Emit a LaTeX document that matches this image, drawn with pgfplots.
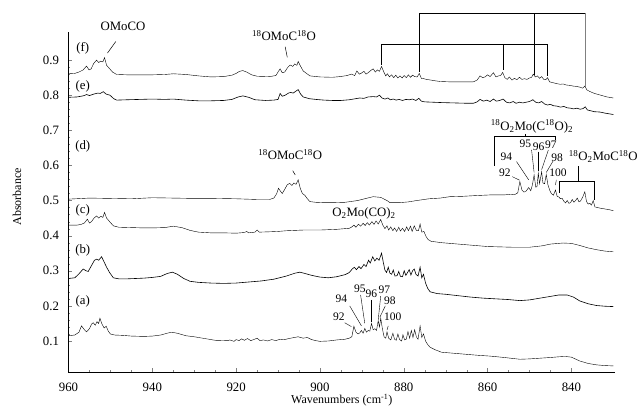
\documentclass[border=0pt]{standalone}
\usepackage{fontspec}
\setmainfont{Liberation Serif}
\usepackage{pgfplots}
\pgfplotsset{compat=1.18}

\newcommand{\iso}{\textsuperscript{18}}

\begin{document}
\begin{tikzpicture}[font=\fontsize{12.8}{15}\selectfont]
\begin{axis}[
  scale only axis, width=546.5pt, height=340pt,
  x dir=reverse, xmin=829.6, xmax=960,
  ymin=0.0117, ymax=0.980,
  axis x line*=bottom, axis y line*=left,
  axis line style={line width=0.5pt, -},
  tick align=inside,
  major tick length=4pt, minor tick length=2pt,
  xtick={840,860,880,900,920,940,960}, minor x tick num=3,
  ytick={0.1,0.2,0.3,0.4,0.5,0.6,0.7,0.8,0.9}, minor y tick num=4,
  /pgf/number format/assume math mode=true,
  yticklabel style={/pgf/number format/fixed, /pgf/number format/precision=1, /pgf/number format/fixed zerofill, xshift=-6pt},
  xticklabel style={yshift=-7pt},
  xlabel={Wavenumbers (cm\textsuperscript{-1})},
  xlabel style={at={(axis description cs:0.5,0)}, anchor=center, yshift=-28pt, font=\fontsize{12}{14}\selectfont},
  ylabel={Absorbance},
  ylabel style={at={(axis description cs:-0.0942,0.515)}, anchor=center, font=\fontsize{12}{14}\selectfont},
  clip=false,
  cycle list={{black, line width=0.6pt, mark=none}},
]
% (a)
\addplot coordinates {
(960,0.115) (958.5,0.117) (957.5,0.125) (956.9,0.143) (956.2,0.132) (955.7,0.126) (955.0,0.135)
(954.5,0.148) (954.1,0.152) (953.6,0.145) (953.2,0.155) (952.8,0.15) (952.5,0.165) (952.0,0.148)
(951.5,0.137) (951.0,0.142) (950.5,0.128) (950.0,0.12) (949.0,0.117) (947,0.116) (945,0.114)
(942,0.113) (940,0.114) (938,0.117) (936.5,0.122) (935.4,0.125) (934,0.122) (932,0.115) (930,0.112)
(928,0.108) (925,0.102) (922,0.101) (921.5,0.103) (920.5,0.099) (920,0.104) (919.3,0.101)
(918.7,0.106) (918,0.102) (917.3,0.107) (916.5,0.101) (915.8,0.104) (915,0.108) (914.3,0.101)
(913.5,0.103) (912.5,0.1) (911.5,0.104) (910.5,0.101) (909.5,0.105) (908.5,0.104) (907,0.108)
(905.2,0.112) (904,0.108) (903,0.11) (902,0.104) (901,0.101) (900,0.099) (898,0.1) (896,0.103)
(894,0.105) (893,0.108) (892.4,0.112) (891.9,0.142) (891.4,0.125) (890.9,0.12) (890.5,0.123)
(890.1,0.13) (889.7,0.122) (889.3,0.136) (888.9,0.125) (888.5,0.13) (888.1,0.128) (887.7,0.15)
(887.3,0.132) (886.9,0.135) (886.5,0.13) (886.1,0.158) (885.8,0.14) (885.5,0.165) (885.1,0.135)
(884.7,0.112) (884.3,0.108) (884.0,0.126) (883.6,0.108) (883.1,0.103) (882.6,0.122) (882.2,0.105)
(881.8,0.102) (881.4,0.12) (881.0,0.104) (880.5,0.1) (880.2,0.118) (879.8,0.103) (879.4,0.105)
(879.0,0.127) (878.6,0.108) (878.2,0.13) (877.8,0.11) (877.4,0.132) (877.0,0.112) (876.6,0.105)
(876.1,0.143) (875.7,0.11) (875.3,0.12) (874.8,0.1) (874.3,0.09) (873.7,0.082) (872.5,0.075)
(871,0.068) (869,0.066) (866,0.063) (862,0.059) (859.4,0.057) (856,0.053) (852.3,0.048)
(850,0.049) (847.5,0.051) (845,0.053) (843,0.055) (841.5,0.056) (840,0.054) (838,0.043)
(836,0.036) (834,0.032) (832,0.03) (830,0.029)
};
% (b)
\addplot coordinates {
(960,0.278) (958.5,0.28) (957.6,0.29) (956.5,0.305) (955.8,0.3) (955.3,0.298) (954.5,0.315)
(953.8,0.33) (953.3,0.333) (952.8,0.33) (952.1,0.34) (951.5,0.325) (950.9,0.31) (950.2,0.295)
(949.3,0.28) (948,0.277) (946,0.277) (944,0.278) (942,0.279) (940,0.281) (938,0.284) (936.5,0.292)
(935.2,0.296) (934,0.29) (932.5,0.278) (931,0.27) (929,0.267) (926,0.265) (923,0.264) (920,0.265)
(917,0.268) (914,0.271) (911,0.276) (908,0.285) (906,0.293) (904.8,0.296) (903.5,0.292)
(902,0.287) (900,0.282) (898,0.28) (896,0.283) (894,0.289) (893,0.295) (892.3,0.305) (891.8,0.31)
(891.3,0.303) (890.7,0.312) (890.2,0.306) (889.5,0.318) (889.0,0.312) (888.4,0.33) (888.0,0.322)
(887.4,0.34) (886.9,0.328) (886.4,0.336) (885.9,0.33) (885.3,0.35) (884.9,0.325) (884.5,0.302)
(884.1,0.295) (883.7,0.31) (883.3,0.293) (882.9,0.29) (882.5,0.302) (882.1,0.285) (881.6,0.286)
(881.2,0.298) (880.8,0.284) (880.3,0.283) (879.9,0.3) (879.5,0.287) (879.1,0.295) (878.7,0.303)
(878.3,0.288) (877.9,0.3) (877.5,0.305) (877.1,0.29) (876.6,0.285) (876.1,0.31) (875.7,0.28)
(875.3,0.29) (874.8,0.265) (874.3,0.25) (873.7,0.24) (872,0.235) (870,0.233) (867,0.229)
(864,0.225) (861,0.222) (858,0.22) (855,0.218) (852.3,0.215) (850,0.217) (847.5,0.222)
(845,0.227) (843,0.231) (841,0.231) (839.5,0.225) (838,0.214) (836,0.206) (834,0.201)
(832,0.199) (830,0.198)
};
% (c)
\addplot coordinates {
(960,0.43) (958,0.43) (957,0.432) (956.2,0.436) (955.5,0.447) (955.0,0.436) (954.5,0.44)
(953.9,0.45) (953.3,0.456) (952.8,0.45) (952.3,0.455) (951.8,0.452) (951.4,0.466) (950.9,0.45)
(950.2,0.44) (949.3,0.428) (948,0.424) (945,0.423) (942,0.422) (940,0.422) (937,0.423) (935,0.427)
(933,0.423) (931,0.415) (929,0.41) (926,0.408) (923,0.408) (920,0.407) (918,0.409) (917.5,0.412)
(917,0.408) (915.5,0.41) (915.0,0.416) (914.5,0.41) (912,0.411) (910,0.412) (908,0.414)
(906,0.415) (904,0.416) (902,0.416) (900,0.416) (898,0.417) (896,0.418) (894,0.42) (893,0.421)
(892.5,0.424) (891.9,0.43) (891.4,0.424) (890.8,0.433) (890.3,0.427) (889.7,0.435) (889.2,0.429)
(888.7,0.437) (888.2,0.43) (887.6,0.44) (887.1,0.432) (886.6,0.442) (886.1,0.433) (885.5,0.446)
(885.0,0.43) (884.5,0.42) (884.0,0.428) (883.6,0.416) (883.1,0.425) (882.6,0.414) (882.2,0.422)
(881.7,0.412) (881.2,0.424) (880.8,0.413) (880.3,0.421) (879.8,0.412) (879.3,0.425) (878.9,0.414)
(878.4,0.427) (878.0,0.412) (877.5,0.428) (877.0,0.415) (876.5,0.414) (876.1,0.433) (875.7,0.41)
(875.2,0.412) (874.7,0.398) (874.2,0.389) (873.5,0.384) (871,0.38) (868,0.377) (865,0.374)
(862,0.371) (860,0.369) (857,0.368) (854,0.367) (850,0.367) (847,0.371) (845,0.376) (842,0.379)
(840,0.378) (838,0.372) (836,0.365) (834,0.36) (832,0.356) (830,0.354)
};
% (d)
\addplot coordinates {
(960,0.504) (955,0.507) (950,0.506) (945,0.505) (940,0.508) (935,0.507) (930,0.506) (925,0.506)
(920,0.505) (915,0.503) (912,0.503) (911,0.507) (910.3,0.52) (909.9,0.535) (909.5,0.528)
(909.0,0.52) (908.5,0.53) (907.8,0.545) (907.2,0.549) (906.7,0.543) (906.2,0.55) (905.7,0.546)
(905.2,0.559) (904.7,0.535) (904.2,0.52) (903.6,0.515) (903,0.505) (902.4,0.497) (901,0.495)
(899,0.494) (896.9,0.494) (894,0.495) (892.8,0.497) (891,0.5) (889,0.506) (887.3,0.511)
(885.5,0.509) (884,0.5) (883.3,0.494) (881,0.494) (879,0.496) (876.9,0.5) (874,0.505)
(871.3,0.507) (869,0.511) (866,0.512) (863,0.514) (859.4,0.516) (856,0.516) (854.5,0.518)
(853.5,0.517) (852.8,0.522) (852.3,0.554) (851.8,0.53) (851.3,0.524) (850.8,0.527) (850.2,0.537)
(849.7,0.528) (849.3,0.545) (848.9,0.573) (848.5,0.538) (848.2,0.54) (847.9,0.578) (847.6,0.548)
(847.1,0.582) (846.8,0.55) (846.4,0.548) (846.0,0.574) (845.6,0.545) (845.2,0.53) (844.8,0.52)
(844.3,0.515) (843.8,0.53) (843.4,0.512) (843.0,0.51) (842.6,0.505) (842.2,0.506) (841.8,0.498)
(841.4,0.493) (841.0,0.5) (840.6,0.492) (840.2,0.494) (839.8,0.503) (839.4,0.495) (839.0,0.5)
(838.6,0.507) (838.2,0.496) (837.8,0.499) (837.3,0.51) (836.8,0.525) (836.4,0.497) (836.0,0.49)
(835.6,0.492) (835.2,0.487) (834.8,0.5) (834.4,0.482) (833.8,0.48) (833,0.478) (832,0.476)
(831,0.474) (830,0.471)
};
% (e)
\addplot coordinates {
(960,0.794) (958,0.795) (957,0.797) (956.2,0.799) (955.7,0.802) (955,0.799) (954,0.803) (953,0.806)
(952.4,0.805) (951.7,0.81) (951,0.803) (950.1,0.8) (949.2,0.79) (948.5,0.786) (946,0.787)
(943,0.788) (940,0.789) (937,0.788) (935,0.789) (932,0.786) (929,0.784) (926,0.784) (923,0.785)
(921,0.788) (919.5,0.795) (918.4,0.798) (917,0.794) (915.5,0.787) (913,0.785) (911,0.786)
(910,0.788) (909.5,0.805) (909,0.797) (908.3,0.8) (907.5,0.806) (907,0.808) (906.4,0.806)
(905.9,0.81) (905.2,0.816) (904.6,0.803) (904,0.795) (902.5,0.79) (901,0.788) (899,0.786)
(897,0.785) (895,0.785) (893,0.787) (891.5,0.79) (890.5,0.792) (889.5,0.791) (888.5,0.795)
(887.3,0.796) (886.5,0.795) (885.8,0.8) (885.2,0.792) (884.5,0.789) (883.8,0.792) (883.2,0.787)
(882.5,0.789) (881.8,0.786) (881.1,0.788) (880.3,0.785) (879.5,0.788) (878.7,0.787) (877.9,0.789)
(877.1,0.785) (876.4,0.791) (875.8,0.783) (875,0.781) (873,0.78) (871,0.779) (868,0.778)
(865,0.777) (863.4,0.777) (862.5,0.781) (861.8,0.788) (861,0.783) (860.2,0.786) (859.4,0.782)
(858.6,0.789) (857.9,0.783) (857.1,0.785) (856.3,0.789) (855.5,0.78) (854.7,0.778) (853.9,0.782)
(853.2,0.777) (852.4,0.78) (851.6,0.778) (850.8,0.78) (850,0.782) (849.2,0.787) (848.5,0.78)
(847.8,0.778) (847.1,0.782) (846.4,0.775) (845.7,0.772) (845,0.774) (844.3,0.77) (843.5,0.769)
(842.6,0.766) (841.8,0.768) (841,0.764) (840.2,0.763) (839.5,0.761) (838.7,0.763) (837.9,0.76)
(837.2,0.762) (836.7,0.767) (836.2,0.758) (835.5,0.756) (834.5,0.753) (833.2,0.752) (832,0.749)
(831,0.747) (830,0.745)
};
% (f)
\addplot coordinates {
(960,0.861) (958.5,0.862) (957.5,0.866) (956.5,0.872) (955.7,0.883) (955.1,0.872) (954.6,0.875)
(954,0.89) (953.3,0.9) (952.8,0.893) (952.3,0.897) (951.8,0.895) (951.4,0.907) (950.9,0.885)
(950.3,0.877) (949.5,0.866) (948.5,0.859) (946,0.858) (943,0.858) (940,0.858) (937,0.859)
(935,0.861) (932,0.859) (929,0.855) (926,0.852) (923,0.853) (921,0.857) (920,0.862) (919.2,0.868)
(918.4,0.87) (917.5,0.866) (916.3,0.858) (915,0.854) (912,0.853) (910.5,0.856) (909.9,0.868)
(909.5,0.875) (909,0.864) (908.4,0.866) (907.7,0.879) (907.1,0.886) (906.5,0.882) (906,0.889)
(905.5,0.885) (905.2,0.896) (904.6,0.882) (904,0.869) (903.2,0.862) (902.4,0.855) (900,0.852)
(897,0.851) (895.2,0.853) (893.5,0.856) (892.5,0.86) (891.7,0.856) (891.2,0.869) (890.6,0.86)
(890.1,0.863) (889.5,0.868) (889,0.86) (888.4,0.865) (887.8,0.871) (887.3,0.875) (886.8,0.866)
(886.3,0.872) (885.8,0.868) (885.3,0.882) (884.8,0.867) (884.3,0.855) (883.9,0.861) (883.4,0.852)
(882.9,0.858) (882.4,0.85) (881.9,0.857) (881.4,0.849) (880.9,0.855) (880.4,0.849) (879.9,0.856)
(879.4,0.85) (878.9,0.858) (878.4,0.851) (877.9,0.857) (877.4,0.853) (876.8,0.852) (876.3,0.862)
(875.8,0.848) (875.2,0.847) (874.6,0.845) (873.5,0.843) (872.5,0.841) (871.3,0.839) (869,0.838)
(866,0.838) (863.4,0.838) (862.5,0.843) (861.8,0.855) (861.2,0.85) (860.6,0.852) (860,0.858)
(859.4,0.853) (858.6,0.864) (858,0.852) (857.4,0.855) (856.9,0.856) (856.4,0.865) (855.9,0.85)
(855.3,0.845) (854.8,0.852) (854.2,0.843) (853.6,0.848) (853,0.844) (852.4,0.851) (851.8,0.845)
(851.2,0.847) (850.6,0.845) (850,0.849) (849.5,0.851) (849.1,0.86) (848.6,0.852) (848.1,0.855)
(847.6,0.848) (847.1,0.853) (846.6,0.845) (846.1,0.844) (845.7,0.85) (845.2,0.838) (844.5,0.836)
(843.5,0.833) (842.7,0.831) (842,0.832) (841.2,0.829) (840.4,0.828) (839.6,0.826) (838.8,0.825)
(838,0.823) (837.3,0.82) (836.8,0.826) (836.3,0.815) (835.5,0.81) (834.5,0.805) (833,0.8)
(831.5,0.795) (830,0.792)
};

% trace labels
\node at (axis cs:956.6,0.934) {(f)};
\node at (axis cs:956.6,0.826) {(e)};
\node at (axis cs:956.6,0.654) {(d)};
\node at (axis cs:956.6,0.473) {(c)};
\node at (axis cs:956.6,0.359) {(b)};
\node at (axis cs:956.6,0.212) {(a)};

% species labels
\node at (axis cs:947.0,0.995) {OMoCO};
\draw[line width=0.5pt] (axis cs:948.7,0.953) -- (axis cs:950.7,0.920);
\node at (axis cs:908.6,0.969) {\iso OMoC\iso O};
\draw[line width=0.5pt] (axis cs:908.3,0.938) -- (axis cs:907.8,0.908);
\node at (axis cs:907.1,0.630) {\iso OMoC\iso O};
\draw[line width=0.5pt] (axis cs:906.5,0.585) -- (axis cs:905.9,0.573);
\node at (axis cs:889.5,0.464) {O\textsubscript{2}Mo(CO)\textsubscript{2}};

% brackets on (f)
\draw[line width=0.6pt] (axis cs:885.3,0.886) |- (axis cs:845.7,0.945) -- (axis cs:845.7,0.855);
\draw[line width=0.6pt] (axis cs:856.3,0.945) -- (axis cs:856.3,0.872);
\draw[line width=0.6pt] (axis cs:876.2,0.867) |- (axis cs:836.8,1.034);
\draw[line width=0.6pt] (axis cs:848.9,1.034) -- (axis cs:848.9,0.858);
\draw[line width=0.6pt, gray] (axis cs:836.8,1.034) -- (axis cs:836.8,0.822);

% 18O2Mo(C18O)2 on (d)
\node at (axis cs:849.4,0.711) {\iso O\textsubscript{2}Mo(C\iso O)\textsubscript{2}};
\draw[line width=0.5pt] (axis cs:858.3,0.599) |- (axis cs:843.8,0.682) -- (axis cs:843.8,0.673);
\draw[line width=0.5pt] (axis cs:851.1,0.682) -- (axis cs:851.1,0.690);
\begin{scope}[font=\fontsize{11.5}{13}\selectfont]
\node at (axis cs:855.9,0.578) {92};
\node at (axis cs:855.5,0.625) {94};
\node at (axis cs:851.0,0.661) {95};
\node at (axis cs:847.8,0.654) {96};
\node at (axis cs:844.9,0.658) {97};
\node at (axis cs:843.4,0.622) {98};
\node at (axis cs:843.2,0.578) {100};
\end{scope}
\draw[line width=0.4pt] (axis cs:854.1,0.568) -- (axis cs:852.4,0.558);
\draw[line width=0.4pt] (axis cs:853.1,0.611) -- (axis cs:850.2,0.559);
\draw[line width=0.4pt] (axis cs:849.5,0.644) -- (axis cs:848.9,0.580);
\draw[line width=0.4pt] (axis cs:847.9,0.639) -- (axis cs:847.9,0.585);
\draw[line width=0.4pt] (axis cs:845.5,0.644) -- (axis cs:847.1,0.588);
\draw[line width=0.4pt] (axis cs:844.4,0.612) -- (axis cs:846.0,0.580);
\draw[line width=0.4pt] (axis cs:843.6,0.559) -- (axis cs:843.8,0.544);

% 18O2MoC18O on (d)
\node at (axis cs:832.4,0.625) {\iso O\textsubscript{2}MoC\iso O};
\draw[line width=0.5pt] (axis cs:838.4,0.597) -- (axis cs:838.4,0.554);
\draw[line width=0.5pt] (axis cs:842.8,0.522) |- (axis cs:834.6,0.554) -- (axis cs:834.6,0.502);

% isotope numbers on (a)
\begin{scope}[font=\fontsize{11.5}{13}\selectfont]
\node at (axis cs:895.5,0.168) {92};
\node at (axis cs:894.9,0.219) {94};
\node at (axis cs:890.5,0.250) {95};
\node at (axis cs:887.7,0.234) {96};
\node at (axis cs:884.6,0.247) {97};
\node at (axis cs:883.3,0.216) {98};
\node at (axis cs:882.6,0.168) {100};
\end{scope}
\draw[line width=0.4pt] (axis cs:894.1,0.152) -- (axis cs:892.5,0.141);
\draw[line width=0.4pt] (axis cs:892.9,0.200) -- (axis cs:890.1,0.143);
\draw[line width=0.4pt] (axis cs:890.3,0.231) -- (axis cs:889.3,0.150);
\draw[line width=0.4pt] (axis cs:887.7,0.217) -- (axis cs:887.7,0.155);
\draw[line width=0.4pt] (axis cs:885.5,0.228) -- (axis cs:886.1,0.160);
\draw[line width=0.4pt] (axis cs:884.4,0.200) -- (axis cs:885.7,0.168);
\draw[line width=0.4pt] (axis cs:883.7,0.143) -- (axis cs:884.0,0.131);

\coordinate (bl) at (axis description cs:0,0);
\end{axis}
\pgfresetboundingbox
\path[use as bounding box] (bl) ++(-68.5pt,-40pt) rectangle ++(638pt,412pt);
\end{tikzpicture}
\end{document}
